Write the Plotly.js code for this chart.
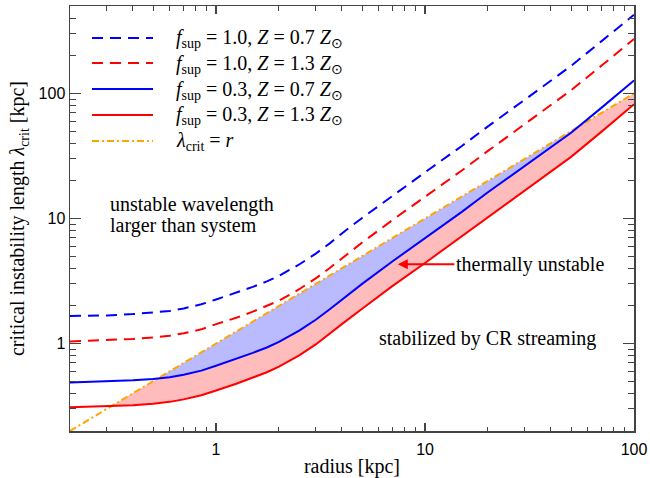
<!DOCTYPE html>
<html><head><meta charset="utf-8">
<script src="https://cdn.plot.ly/plotly-3.0.1.min.js"></script>
<style>html,body{margin:0;padding:0;background:#fff}#chart{width:650px;height:478px}</style>
</head><body><div id="chart"></div>
<script>
// radius [kpc]
const radius = [0.2,0.3,0.4,0.5,0.6,0.7,0.85,1,1.25,1.5,1.75,2,2.5,3,3.5,4,5,7,10,15,20,30,50,70,100];
// critical instability length [kpc]
const lamSup10Z07 = [1.66,1.68,1.72,1.77,1.82,1.91,2.06,2.25,2.54,2.84,3.14,3.48,4.29,5.24,6.33,7.6,10.1,15.3,23.4,38,54.5,89,166,262,425];
const lamSup10Z13 = [1.04,1.065,1.09,1.12,1.155,1.21,1.30,1.43,1.61,1.8,1.99,2.2,2.72,3.32,4.02,4.82,6.42,9.75,14.9,24.2,34.7,56.8,106,167,272];
const lamSup03Z07 = [0.489,0.497,0.508,0.522,0.539,0.564,0.608,0.665,0.752,0.843,0.93,1.03,1.27,1.55,1.88,2.25,3.0,4.55,6.95,11.3,16.2,26.5,48.5,77,127];
const lamSup03Z13 = [0.31,0.315,0.322,0.331,0.342,0.358,0.386,0.422,0.477,0.535,0.59,0.654,0.806,0.984,1.193,1.43,1.9,2.89,4.41,7.2,10.35,16.9,31.1,49.5,82];
const lamSystem = radius.slice(); // lambda_crit = r

const legendLabels = [
  '<i>f</i><sub>sup</sub> = 1.0, <i>Z</i> = 0.7 <i>Z</i><sub>⊙</sub>',
  '<i>f</i><sub>sup</sub> = 1.0, <i>Z</i> = 1.3 <i>Z</i><sub>⊙</sub>',
  '<i>f</i><sub>sup</sub> = 0.3, <i>Z</i> = 0.7 <i>Z</i><sub>⊙</sub>',
  '<i>f</i><sub>sup</sub> = 0.3, <i>Z</i> = 1.3 <i>Z</i><sub>⊙</sub>',
  '<i>λ</i><sub>crit</sub> = <i>r</i>'
];

const BLUE = 'rgb(0,0,255)', RED = 'rgb(255,0,0)', ORANGE = 'rgb(255,165,0)';
const DASH = '11px,7px', DASHDOT = '7px,3px,2px,3px';

// ---- fill regions (built in log space from the series, exact on drawn segments)
const lg = a => a.map(v => Math.log10(v));
const LX = lg(radius), LB = lg(lamSup03Z07), LR = lg(lamSup03Z13), LO = lg(lamSystem);
function crossings(a, b) {
  const out = [];
  for (let i = 0; i < LX.length - 1; i++) {
    const d0 = a[i] - b[i], d1 = a[i+1] - b[i+1];
    if (d0 * d1 < 0) { const t = d0 / (d0 - d1); out.push(LX[i] + t * (LX[i+1] - LX[i])); }
  }
  return out;
}
function at(ly, x) {
  for (let i = 0; i < LX.length - 1; i++) {
    if (x >= LX[i] - 1e-12 && x <= LX[i+1] + 1e-12) {
      const t = (x - LX[i]) / (LX[i+1] - LX[i]);
      return ly[i] + t * (ly[i+1] - ly[i]);
    }
  }
  return ly[ly.length - 1];
}
let xs = LX.concat(crossings(LB, LO), crossings(LR, LO), crossings(LB, LR));
xs = Array.from(new Set(xs.map(v => +v.toFixed(10)))).sort((a, b) => a - b);
const bTop = [], bBot = [], pTop = [], pBot = [];
xs.forEach(x => {
  const b = at(LB, x), r = at(LR, x), o = at(LO, x);
  bBot.push(b); bTop.push(Math.max(o, b));
  pBot.push(r); pTop.push(Math.max(r, Math.min(b, o)));
});
function polygon(top, bot) {
  const px = xs.concat(xs.slice().reverse()).map(v => Math.pow(10, v));
  const py = top.concat(bot.slice().reverse()).map(v => Math.pow(10, v));
  return {x: px, y: py};
}
const bluePoly = polygon(bTop, bBot), pinkPoly = polygon(pTop, pBot);

const traces = [
  {x: pinkPoly.x, y: pinkPoly.y, mode: 'lines', fill: 'toself', fillcolor: 'rgb(255,188,188)',
   line: {width: 0, color: 'rgba(0,0,0,0)'}, hoverinfo: 'skip', showlegend: false},
  {x: bluePoly.x, y: bluePoly.y, mode: 'lines', fill: 'toself', fillcolor: 'rgb(186,186,255)',
   line: {width: 0, color: 'rgba(0,0,0,0)'}, hoverinfo: 'skip', showlegend: false},
  {x: radius, y: lamSup10Z07, mode: 'lines', line: {color: BLUE, width: 2, dash: DASH}, showlegend: false},
  {x: radius, y: lamSup10Z13, mode: 'lines', line: {color: RED, width: 2, dash: DASH}, showlegend: false},
  {x: radius, y: lamSystem, mode: 'lines', line: {color: ORANGE, width: 2, dash: DASHDOT}, showlegend: false},
  {x: radius, y: lamSup03Z07, mode: 'lines', line: {color: BLUE, width: 2}, showlegend: false},
  {x: radius, y: lamSup03Z13, mode: 'lines', line: {color: RED, width: 2}, showlegend: false}
];

// ---- manual legend (paper coords)
const L0 = 70, PW = 564, B0 = 431, PH = 425;
const px = v => (v - L0) / PW, py = v => (B0 - v) / PH;
const legY = [38, 63, 89, 115, 141];
const legStyle = [
  {color: BLUE, dash: DASH}, {color: RED, dash: DASH},
  {color: BLUE, dash: 'solid'}, {color: RED, dash: 'solid'}, {color: ORANGE, dash: DASHDOT}
];
const shapes = legY.map((y, i) => ({
  type: 'line', xref: 'paper', yref: 'paper', x0: px(92), x1: px(153), y0: py(y), y1: py(y),
  line: {color: legStyle[i].color, width: 2, dash: legStyle[i].dash}
}));
const serif = 'Liberation Serif, Times New Roman, serif';
const annotations = legY.map((y, i) => ({
  xref: 'paper', yref: 'paper', x: px(174), y: py(y + 1), xanchor: 'left', yanchor: 'middle',
  text: legendLabels[i], showarrow: false, font: {family: serif, size: 20, color: '#000'}
}));
annotations.push(
  {xref: 'paper', yref: 'paper', x: px(108), y: py(204), xanchor: 'left', yanchor: 'middle',
   text: 'unstable wavelength', showarrow: false, font: {family: serif, size: 20, color: '#000'}},
  {xref: 'paper', yref: 'paper', x: px(108), y: py(226), xanchor: 'left', yanchor: 'middle',
   text: 'larger than system', showarrow: false, font: {family: serif, size: 20, color: '#000'}},
  {xref: 'paper', yref: 'paper', x: px(487.5), y: py(338), xanchor: 'center', yanchor: 'middle',
   text: 'stabilized by CR streaming', showarrow: false, font: {family: serif, size: 20, color: '#000'}},
  {xref: 'x', yref: 'y', x: Math.log10(7.41), y: Math.log10(4.31), text: 'thermally unstable',
   showarrow: true, ax: 132, ay: 0, axref: 'pixel', ayref: 'pixel', arrowhead: 2, arrowsize: 1,
   arrowwidth: 2, arrowcolor: RED, standoff: 0, xanchor: 'center', yanchor: 'middle',
   font: {family: serif, size: 20, color: '#000'}}
);

function minorVals(lo, hi) {
  const v = [];
  for (let d = -1; d <= 2; d++) for (let m = 2; m <= 9; m++) {
    const t = m * Math.pow(10, d); if (t > lo * 1.0001 && t < hi * 0.9999) v.push(t);
  }
  return v;
}
const AX = '#444';
const layout = {
  width: 650, height: 478,
  margin: {l: 70, r: 16, t: 6, b: 47},
  paper_bgcolor: '#fff', plot_bgcolor: '#fff',
  showlegend: false,
  xaxis: {
    type: 'log', range: [Math.log10(0.2), 2], showgrid: false, zeroline: false,
    showline: true, linecolor: AX, linewidth: 1.5, mirror: 'ticks',
    ticks: 'inside', ticklen: 8, tickwidth: 1.5, tickcolor: AX,
    tickmode: 'array', tickvals: [1, 10, 100], ticktext: ['1', '10', '100'], ticklabelstandoff: 3,
    tickfont: {family: 'Liberation Sans, Arial, sans-serif', size: 16, color: '#000'},
    minor: {ticks: 'inside', ticklen: 4.5, tickwidth: 1, tickcolor: AX, tickmode: 'array', tickvals: minorVals(0.2, 100)},
    title: {text: 'radius [kpc]', font: {family: serif, size: 20, color: '#000'}, standoff: 2}
  },
  yaxis: {
    type: 'log', range: [Math.log10(0.2), Math.log10(500)], showgrid: false, zeroline: false,
    showline: true, linecolor: AX, linewidth: 1.5, mirror: 'ticks',
    ticks: 'inside', ticklen: 11, tickwidth: 1.5, tickcolor: AX,
    tickmode: 'array', tickvals: [1, 10, 100], ticktext: ['1', '10', '100'],
    tickfont: {family: 'Liberation Sans, Arial, sans-serif', size: 16, color: '#000'},
    minor: {ticks: 'inside', ticklen: 6, tickwidth: 1, tickcolor: AX, tickmode: 'array', tickvals: minorVals(0.2, 500)},
    title: {text: 'critical instability length <i>λ</i><sub>crit</sub> [kpc]', font: {family: serif, size: 20, color: '#000'}, standoff: 8}
  },
  shapes: shapes,
  annotations: annotations
};
Plotly.newPlot('chart', traces, layout, {displayModeBar: false, staticPlot: true});
</script>
</body></html>
